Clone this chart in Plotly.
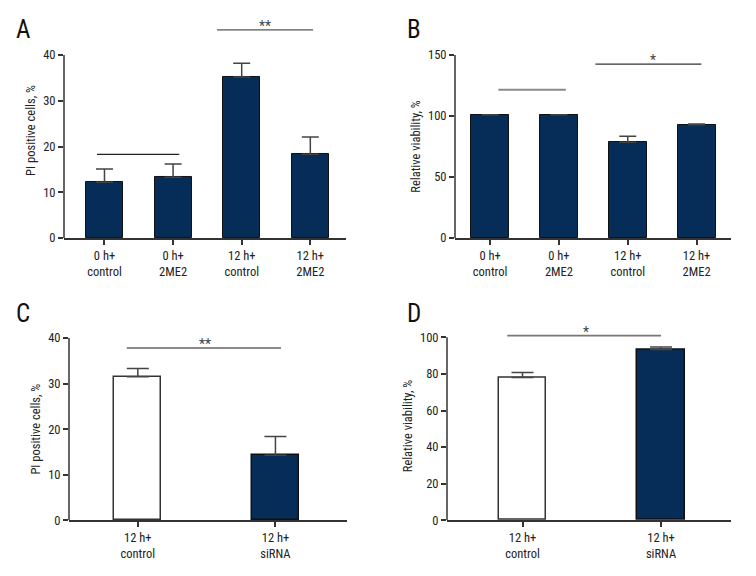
import plotly.graph_objects as go

OFF = 8                      # page body margin of the viewer
W, H = 756 - OFF, 576 - OFF

# ---------------- data ----------------
a_cats = ["0 h+<br>control", "0 h+<br>2ME2", "12 h+<br>control", "12 h+<br>2ME2"]
a_vals = [12.2, 13.3, 35.2, 18.3]
a_errs = [2.9, 2.9, 3.0, 3.8]
a_sig_x0 = [-0.11, 1.64]
a_sig_x1 = [1.09, 3.04]
a_sig_y = [18.3, 45.5]
a_sig_lbl = ["", "**"]
a_sig_lblx = [0.5, 2.34]

b_cats = ["0 h+<br>control", "0 h+<br>2ME2", "12 h+<br>control", "12 h+<br>2ME2"]
b_vals = [101.0, 101.0, 78.4, 92.9]
b_errs = [0.0, 0.0, 4.9, 0.6]
b_sig_x0 = [0.12, 1.53]
b_sig_x1 = [1.10, 3.07]
b_sig_y = [121.6, 142.6]
b_sig_lbl = ["", "*"]
b_sig_lblx = [0.6, 2.37]

c_cats = ["12 h+<br>control", "12 h+<br>siRNA"]
c_vals = [31.5, 14.3]
c_errs = [1.8, 4.1]
c_sig_x0 = [-0.08]
c_sig_x1 = [1.04]
c_sig_y = [37.8]
c_sig_lbl = ["**"]
c_sig_lblx = [0.49]

d_cats = ["12 h+<br>control", "12 h+<br>siRNA"]
d_vals = [78.1, 93.4]
d_errs = [2.6, 1.3]
d_sig_x0 = [-0.11]
d_sig_x1 = [1.0]
d_sig_y = [100.9]
d_sig_lbl = ["*"]
d_sig_lblx = [0.46]

NAVY = "#062d57"
AX = "#333333"
FONT = "Roboto Condensed, DejaVu Sans Condensed, sans-serif"


def mkfont(size, color):
    return dict(family=FONT, size=size, color=color)


def xdom(x0, x1):
    return [(x0 - OFF) / W, (x1 - OFF) / W]


def ydom(y0px, ytop_px, ytop_val, rmax):
    ppu = (y0px - ytop_px) / ytop_val
    top = y0px - rmax * ppu
    return [1 - (y0px - OFF) / H, 1 - (top - OFF) / H]


panels = [
    dict(name="A", cats=a_cats, vals=a_vals, errs=a_errs, colors=[NAVY] * 4,
         lines=["#111111"] * 4, lw=1, sx0=a_sig_x0, sx1=a_sig_x1, sy=a_sig_y,
         slbl=a_sig_lbl, slblx=a_sig_lblx, scol=["#222222", "#555555"], sw=[1.2, 1.2],
         xr=[-0.59, 3.52], yr=[0, 47], yticks=[0, 10, 20, 30, 40],
         xd=xdom(64, 346), yd=ydom(238, 55, 40, 47), bw=0.54, cap=8.5,
         ytitle="PI positive cells, %", letter=(14, 30)),
    dict(name="B", cats=b_cats, vals=b_vals, errs=b_errs, colors=[NAVY] * 4,
         lines=["#111111"] * 4, lw=1, sx0=b_sig_x0, sx1=b_sig_x1, sy=b_sig_y,
         slbl=b_sig_lbl, slblx=b_sig_lblx, scol=["#8a8a8a", "#333333"], sw=[2, 1.2],
         xr=[-0.51, 3.5], yr=[0, 150], yticks=[0, 50, 100, 150],
         xd=xdom(455, 731), yd=ydom(238, 55, 150, 150), bw=0.55, cap=8.5,
         ytitle="Relative viability, %", letter=(405, 30)),
    dict(name="C", cats=c_cats, vals=c_vals, errs=c_errs, colors=["white", NAVY],
         lines=["#333333", "#111111"], lw=1.5, sx0=c_sig_x0, sx1=c_sig_x1, sy=c_sig_y,
         slbl=c_sig_lbl, slblx=c_sig_lblx, scol=["#8a8a8a"], sw=[2],
         xr=[-0.5, 1.52], yr=[0, 40], yticks=[0, 10, 20, 30, 40],
         xd=xdom(69, 347), yd=ydom(520.3, 338, 40, 40), bw=0.34, cap=11,
         ytitle="PI positive cells, %", letter=(14, 314)),
    dict(name="D", cats=d_cats, vals=d_vals, errs=d_errs, colors=["white", NAVY],
         lines=["#333333", "#111111"], lw=1.5, sx0=d_sig_x0, sx1=d_sig_x1, sy=d_sig_y,
         slbl=d_sig_lbl, slblx=d_sig_lblx, scol=["#777777"], sw=[1.6],
         xr=[-0.545, 1.505], yr=[0, 103], yticks=[0, 20, 40, 60, 80, 100],
         xd=xdom(447, 731), yd=ydom(520.3, 337.3, 100, 103), bw=0.34, cap=11,
         ytitle="Relative viability, %", letter=(405, 314)),
]

fig = go.Figure()
shapes = []
annotations = []

for i, p in enumerate(panels):
    k = "" if i == 0 else str(i + 1)
    xa, ya = "x" + k, "y" + k
    n = len(p["vals"])
    xs = list(range(n))
    fig.add_trace(go.Bar(
        x=xs, y=p["vals"], width=p["bw"], xaxis=xa, yaxis=ya,
        marker=dict(color=p["colors"], line=dict(color=p["lines"], width=p["lw"])),
        error_y=dict(type="data", array=p["errs"], arrayminus=[0] * n, symmetric=False,
                     color="#444444", thickness=1.5, width=p["cap"]),
        showlegend=False, hoverinfo="skip",
    ))
    fig.update_layout(**{
        ("xaxis" + k): dict(domain=p["xd"], range=p["xr"], tickvals=xs, ticktext=p["cats"],
                            showline=True, linecolor=AX, linewidth=1.5, ticks="outside",
                            ticklen=5, tickcolor=AX, tickwidth=1.5, showgrid=False,
                            zeroline=False, anchor=ya, fixedrange=True, automargin=False,
                            tickfont=mkfont(12.5, "#222")),
        ("yaxis" + k): dict(domain=p["yd"], range=p["yr"], tickvals=p["yticks"],
                            showline=False, ticks="outside", ticklen=5, tickcolor=AX,
                            tickwidth=1.5, showgrid=False, zeroline=False, anchor=xa,
                            fixedrange=True, automargin=False,
                            tickfont=mkfont(12.5, "#222"),
                            title=dict(text=p["ytitle"], standoff=4,
                                       font=mkfont(12.5, "#222"))),
    })
    shapes.append(dict(type="line", xref=xa + " domain", yref=ya, x0=0, x1=0,
                       y0=p["yticks"][0], y1=p["yticks"][-1],
                       line=dict(color=AX, width=1.5)))
    for x0, x1, y, lbl, lx, c, w in zip(p["sx0"], p["sx1"], p["sy"], p["slbl"],
                                         p["slblx"], p["scol"], p["sw"]):
        shapes.append(dict(type="line", xref=xa, yref=ya, x0=x0, x1=x1, y0=y, y1=y,
                           line=dict(color=c, width=w)))
        if lbl:
            annotations.append(dict(xref=xa, yref=ya, x=lx, y=y, text=lbl, showarrow=False,
                                    yanchor="bottom", yshift=-6,
                                    font=mkfont(14, "#444")))
    lx, ly = p["letter"]
    annotations.append(dict(xref="paper", yref="paper", x=(lx - OFF) / W,
                            y=1 - (ly - OFF) / H,
                            xanchor="left", yanchor="middle", text=p["name"],
                            showarrow=False, font=mkfont(25, "#111")))

fig.update_layout(
    width=W, height=H, margin=dict(l=0, r=0, t=0, b=0, autoexpand=False),
    paper_bgcolor="white", plot_bgcolor="white",
    shapes=shapes, annotations=annotations, showlegend=False, bargap=0,
)

fig.write_html("out.html")
